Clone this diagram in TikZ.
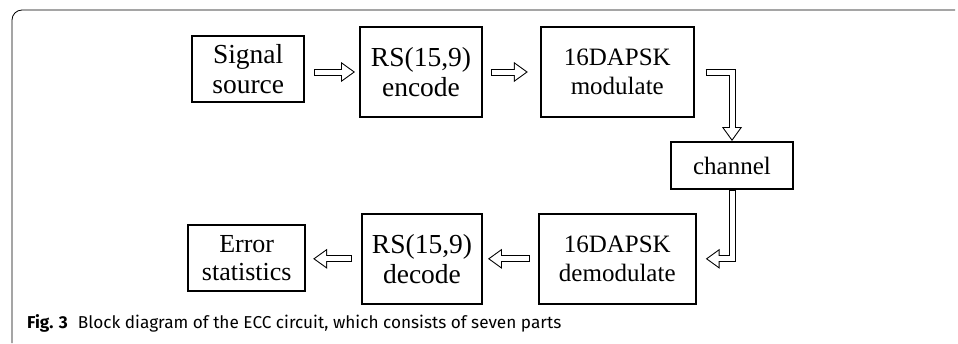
\documentclass[tikz,border=0pt]{standalone}
\usepackage{fontspec}
\setmainfont{Liberation Serif}
\newfontfamily\capfont{Fira Sans}
\usetikzlibrary{arrows.meta, positioning}

\begin{document}
\begin{tikzpicture}[
            x=1pt, y=1pt,
            block/.style={rectangle, draw, line width=1.8pt, align=center, inner sep=0pt, font=\fontsize{25}{29}\selectfont},
            big/.style={font=\fontsize{27.5}{30}\selectfont},
            fat/.style 2 args={draw, line width=7pt, line join=miter, -{Triangle[length=14pt, width=19pt]},
                shorten <=#1, shorten >=#2,
                postaction={draw=white, line width=5pt, -{Triangle[length=11.2pt, width=15.2pt]},
                    shorten <=#1+1pt, shorten >=#2+1.8pt}}
        ]
            \useasboundingbox (0,0) rectangle (958,-343);
            % Frame and caption
            \draw[line width=0.8pt, rounded corners=10pt] (12,-343) -- (12,-10) -- (955,-10);
            \node[anchor=base west, inner sep=0pt, font=\capfont\fontsize{17.2}{19}\selectfont] (caption) at (27,-328)
                {\textbf{Fig. 3}\hspace{10pt}Block diagram of the ECC circuit, which consists of seven parts};
            
            % Nodes
            \node [block, big, minimum width=122pt, minimum height=90pt] (encode) at (421,-72) {RS(15,9)\\encode};
            \node [block, big, minimum width=112pt, minimum height=66pt, left=54pt of encode, yshift=3pt] (source) {Signal\\source};
            \node [block, minimum width=153pt, minimum height=90pt, right=57pt of encode] (modulate) {16DAPSK\\modulate};
            \node [block, minimum width=122pt, minimum height=47pt] (channel) at (732,-165.5) {channel};
            \node [block, minimum width=157pt, minimum height=90pt, below=95pt of modulate] (demodulate) {16DAPSK\\demodulate};
            \node [block, big, minimum width=120pt, minimum height=90pt, left=55pt of demodulate] (decode) {RS(15,9)\\decode};
            \node [block, minimum width=117pt, minimum height=66pt, left=55pt of decode, yshift=1pt,
                   font=\fontsize{26}{28}\selectfont] (errstat) {Error\\statistics};
            
            % Edges
            \path [fat={9pt}{4pt}] (source.east |- encode.west) -- (encode.west);
            \path [fat={8pt}{12pt}] (encode) -- (modulate);
            \path [fat={11pt}{0pt}] (modulate.east) -| (channel.north);
            \path [fat={0pt}{9pt}] (channel.south) |- (demodulate.east);
            \path [fat={8pt}{5pt}] (demodulate) -- (decode);
            \path [fat={9pt}{7pt}] (decode.west) -- (decode.west -| errstat.east);
        \end{tikzpicture}
\end{document}
